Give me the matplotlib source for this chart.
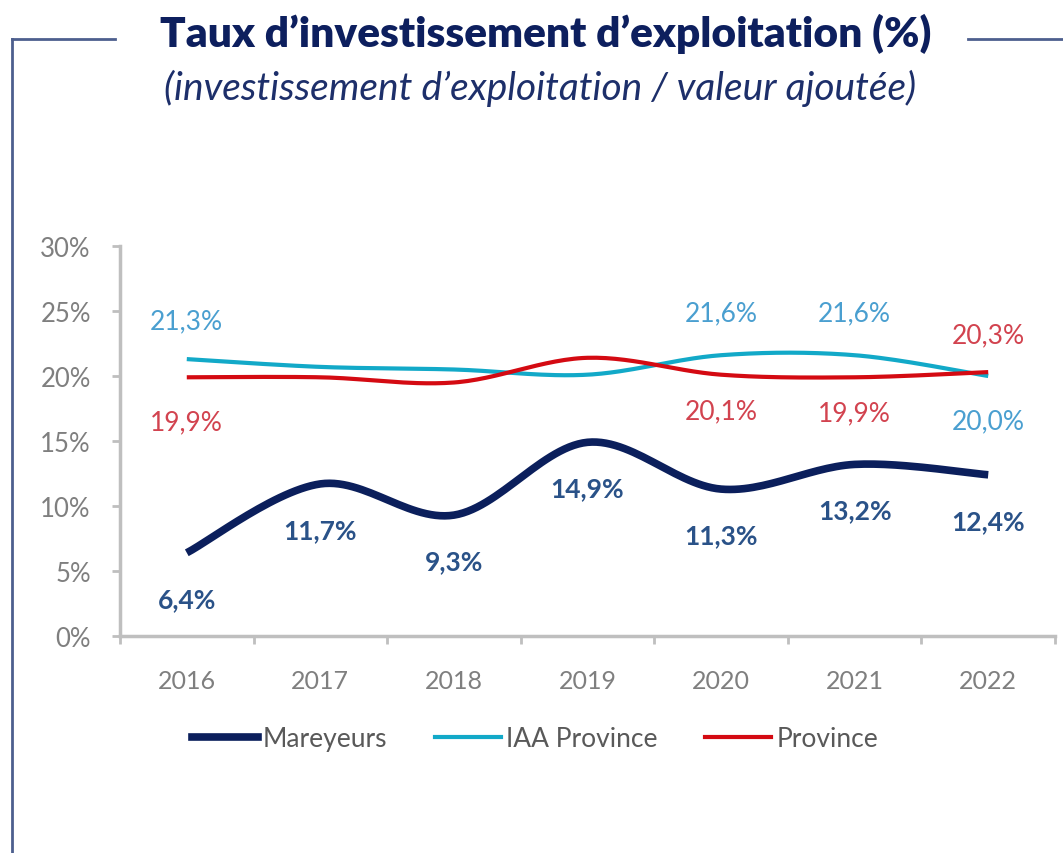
import numpy as np
import matplotlib.pyplot as plt
from matplotlib.lines import Line2D

years = ['2016', '2017', '2018', '2019', '2020', '2021', '2022']
mareyeurs = [6.4, 11.7, 9.3, 14.9, 11.3, 13.2, 12.4]
iaa_province = [21.3, 20.7, 20.5, 20.1, 21.6, 21.6, 20.0]
province = [19.9, 19.9, 19.5, 21.4, 20.1, 19.9, 20.3]

# which points carry a value label, and where (offset in pixels)
mar_labels = {i: -46 for i in range(7)}
iaa_labels = {0: 38, 4: 42, 5: 42, 6: -45}
prov_labels = {0: -45, 4: -36, 5: -36, 6: 37}

NAVY = '#0b1f5c'
CYAN = '#12a9c8'
RED = '#d40a12'
MAR_TXT = '#2a5288'
IAA_TXT = '#4a9fd0'
PROV_TXT = '#d2434f'
GREY = '#bfbfbf'
FRAME = '#4d5f8e'

plt.rcParams['font.family'] = ['Lato', 'DejaVu Sans']


def smooth(y, n=30):
    """Smoothed curve through the points (cubic Bezier, tension 1/6)."""
    x = np.arange(len(y), dtype=float)
    y = np.asarray(y, dtype=float)
    xs, ys = [], []
    for i in range(len(y) - 1):
        p0 = np.array([x[max(i - 1, 0)], y[max(i - 1, 0)]])
        p1 = np.array([x[i], y[i]])
        p2 = np.array([x[i + 1], y[i + 1]])
        p3 = np.array([x[min(i + 2, len(y) - 1)], y[min(i + 2, len(y) - 1)]])
        c1 = p1 + (p2 - p0) / 6
        c2 = p2 - (p3 - p1) / 6
        t = np.linspace(0, 1, n)[:, None]
        pts = ((1 - t) ** 3) * p1 + 3 * ((1 - t) ** 2) * t * c1 + 3 * (1 - t) * t ** 2 * c2 + t ** 3 * p2
        xs.extend(pts[:, 0])
        ys.extend(pts[:, 1])
    return np.array(xs), np.array(ys)


fig = plt.figure(figsize=(10.63, 8.54), dpi=100)
ax = fig.add_axes([120 / 1063, 1 - 637 / 854, 935 / 1063, 390 / 854])

x = np.arange(len(years))
for vals, color, lw, z in [(iaa_province, CYAN, 3.0, 2), (province, RED, 3.0, 3), (mareyeurs, NAVY, 5.5, 4)]:
    sx, sy = smooth(vals)
    ax.plot(sx, sy, color=color, lw=lw, solid_capstyle='butt', zorder=z)

for vals, labels, color in [(mareyeurs, mar_labels, MAR_TXT), (iaa_province, iaa_labels, IAA_TXT),
                            (province, prov_labels, PROV_TXT)]:
    for i, dy in labels.items():
        ax.annotate(f'{vals[i]:.1f}%'.replace('.', ','), (x[i], vals[i]), xytext=(0, dy),
                    textcoords='offset pixels', ha='center', va='center',
                    fontsize=19, color=color, fontweight='bold' if color == MAR_TXT else 'normal')

ax.set_xlim(-0.5, 6.5)
ax.set_ylim(0, 30)
ax.set_yticks(range(0, 31, 5))
ax.set_yticklabels([f'{v}%' for v in range(0, 31, 5)])
ax.set_xticks(x)
ax.set_xticklabels(years)
ax.set_xticks(np.arange(-0.5, 7, 1), minor=True)
ax.tick_params(axis='x', which='major', length=0, pad=24, labelsize=18, labelcolor='#7f7f7f')
ax.tick_params(axis='x', which='minor', length=6, width=2, color=GREY, direction='out')
ax.tick_params(axis='y', length=6, width=2, color=GREY, pad=15, labelsize=18.5, labelcolor='#7f7f7f')
for side in ['top', 'right']:
    ax.spines[side].set_visible(False)
for side in ['left', 'bottom']:
    ax.spines[side].set_color(GREY)
    ax.spines[side].set_linewidth(2.5)

handles = [Line2D([], [], color=NAVY, lw=5.5), Line2D([], [], color=CYAN, lw=3), Line2D([], [], color=RED, lw=3)]
fig.legend(handles, ['Mareyeurs', 'IAA Province', 'Province'], loc='center', bbox_to_anchor=(535 / 1063, 1 - 740 / 854),
           ncol=3, frameon=False, fontsize=19, labelcolor='#595959', handlelength=2.5, handletextpad=0.2,
           columnspacing=1.8)

fig.text(0.513, 1 - 34 / 854, 'Taux d\u2019investissement d\u2019exploitation (%)', ha='center', va='center',
         fontsize=30.5, fontweight='heavy', color='#0d1f5e')
fig.text(0.508, 1 - 88 / 854, '(investissement d\u2019exploitation / valeur ajout\u00e9e)', ha='center', va='center',
         fontsize=28, style='italic', color='#1d2f6a')

# frame around the chart
fig.add_artist(Line2D([12 / 1063, 12 / 1063], [0, 1 - 40 / 854], color=FRAME, lw=2, transform=fig.transFigure))
fig.add_artist(Line2D([12 / 1063, 115 / 1063], [1 - 40 / 854] * 2, color=FRAME, lw=2, transform=fig.transFigure))
fig.add_artist(Line2D([968 / 1063, 1], [1 - 40 / 854] * 2, color=FRAME, lw=2, transform=fig.transFigure))

fig.savefig('out.png', dpi=100)
